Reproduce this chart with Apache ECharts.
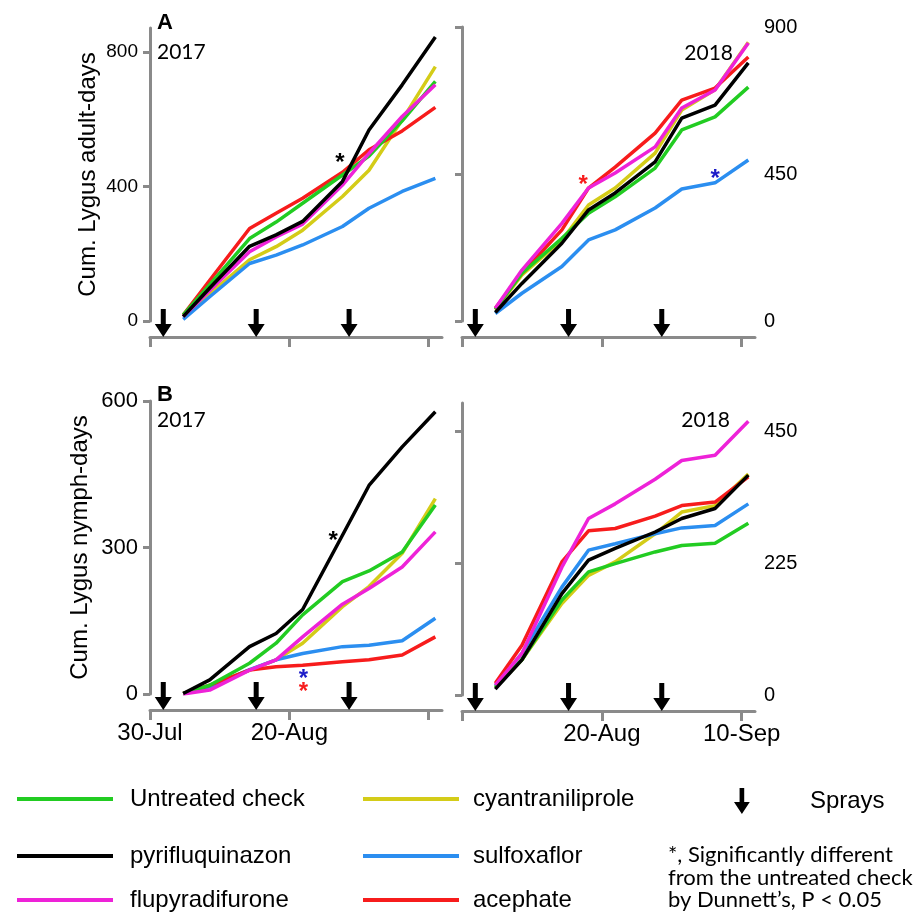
<!DOCTYPE html>
<html>
<head>
<meta charset="utf-8">
<script src="https://cdn.jsdelivr.net/npm/echarts@6/dist/echarts.min.js"></script>
<style>
  html, body { margin: 0; padding: 0; background: #fff; }
  #chart { width: 921px; height: 915px; }
</style>
</head>
<body>
<div id="chart"></div>
<script>
// sampling dates, days after 30 Jul of each year
const sampleDays = [5, 9, 15, 19, 23, 29, 33, 38, 43];
const sprayDays = [2, 16, 30];
const xTickDays = [0, 21, 42];
const xTickText2017 = ['30-Jul', '20-Aug', ''];
const xTickText2018 = ['', '20-Aug', '10-Sep'];

const treatments = ['Untreated check', 'pyrifluquinazon', 'flupyradifurone',
  'cyantraniliprole', 'sulfoxaflor', 'acephate'];

// rows follow the treatments order
const adults2017 = [
  [18, 108, 245, 294, 350, 434, 490, 595, 712],
  [13, 98, 222, 256, 296, 415, 568, 702, 844],
  [13, 91, 206, 250, 288, 404, 498, 608, 702],
  [13, 81, 182, 221, 270, 370, 448, 598, 756],
  [5, 72, 171, 196, 226, 281, 335, 385, 424],
  [18, 121, 275, 320, 365, 442, 509, 565, 635]
];
const adults2018 = [
  [36, 146, 253, 330, 380, 468, 585, 625, 716],
  [26, 115, 238, 340, 392, 487, 621, 661, 790],
  [39, 156, 299, 407, 453, 533, 652, 707, 851],
  [34, 141, 248, 355, 407, 514, 646, 708, 853],
  [23, 85, 167, 248, 279, 346, 404, 423, 493],
  [39, 146, 279, 407, 471, 575, 676, 713, 808]
];
const nymphs2017 = [
  [1, 18, 63, 104, 162, 230, 252, 291, 387],
  [1, 29, 97, 124, 173, 325, 427, 506, 578],
  [0, 8, 49, 70, 117, 184, 216, 260, 332],
  [1, 15, 49, 70, 104, 179, 220, 288, 400],
  [1, 15, 50, 70, 83, 97, 100, 109, 155],
  [1, 18, 49, 56, 59, 66, 70, 80, 117]
];
const nymphs2018 = [
  [13, 60, 162, 210, 224, 244, 255, 259, 293],
  [10, 60, 173, 230, 250, 278, 301, 318, 375],
  [17, 71, 218, 301, 326, 368, 400, 409, 467],
  [13, 60, 156, 204, 227, 275, 312, 323, 377],
  [15, 71, 184, 247, 258, 275, 285, 289, 326],
  [20, 85, 227, 280, 284, 305, 323, 329, 372]
];

// significance marks: [day, value, treatment index]
const starsAdults2017 = [[28.6, 488, 1]];
const starsAdults2018 = [[18.2, 438, 5], [38.0, 456, 4]];
const starsNymphs2017 = [[27.6, 326, 1], [23.1, 45, 4], [23.1, 18, 5]];
const starsNymphs2018 = [];

const lineColors = ['#22cc22', '#000000', '#ee22d8', '#d4cc18', '#2b8ef0', '#f71c1c'];
const starColors = ['#22cc22', '#000000', '#ee22d8', '#d4cc18', '#1c1cc8', '#f71c1c'];
const drawOrder = [3, 4, 5, 0, 2, 1];
const axisGray = '#8a8a8a';
const arial = 'Liberation Sans';
const humanist = 'Lato';
const arrowPath = 'path://M6,0 L11,0 L11,15 L17,15 L8.5,28 L0,15 L6,15 Z';

const panels = [
  { rows: adults2017, stars: starsAdults2017, grid: { left: 150, top: 28, width: 292, height: 293 },
    yMax: 871, yTicks: [0, 400, 800], side: 'left', yFont: 19, xText: null,
    yName: 'Cum. Lygus adult-days', nameGap: 50 },
  { rows: adults2018, stars: starsAdults2018, grid: { left: 462, top: 27, width: 293, height: 294 },
    yMax: 900, yTicks: [0, 450, 900], side: 'right', yFont: 20, xText: null },
  { rows: nymphs2017, stars: starsNymphs2017, grid: { left: 150, top: 401, width: 292, height: 293 },
    yMax: 600, yTicks: [0, 300, 600], side: 'left', yFont: 22, xText: xTickText2017,
    yName: 'Cum. Lygus nymph-days', nameGap: 58 },
  { rows: nymphs2018, stars: starsNymphs2018, grid: { left: 462, top: 403, width: 293, height: 292 },
    yMax: 498, yTicks: [0, 225, 450], side: 'right', yFont: 20, xText: xTickText2018 }
];

const chart = echarts.init(document.getElementById('chart'), null, { renderer: 'canvas' });

const grids = [], xAxes = [], yAxes = [], series = [];

panels.forEach((p, i) => {
  grids.push(Object.assign({ containLabel: false }, p.grid));

  const labelDays = p.xText ? xTickDays.filter((d, k) => p.xText[k]) : [];
  xAxes.push({
    type: 'value', gridIndex: i, min: 0, max: 44, offset: 16,
    axisLine: { show: true, onZero: false, lineStyle: { color: axisGray, width: 3 } },
    axisTick: { show: true, customValues: xTickDays, length: 10, lineStyle: { color: axisGray, width: 3 } },
    axisLabel: {
      show: !!p.xText, customValues: labelDays, margin: 11,
      color: '#000', fontSize: 24, fontFamily: arial,
      formatter: v => p.xText ? p.xText[xTickDays.indexOf(v)] : ''
    },
    splitLine: { show: false }
  });

  yAxes.push({
    type: 'value', gridIndex: i, min: 0, max: p.yMax, position: p.side,
    name: p.yName || '', nameLocation: 'middle', nameGap: p.nameGap || 0, nameRotate: 90,
    nameTextStyle: { color: '#000', fontSize: 24, fontFamily: arial },
    axisLine: { show: true, lineStyle: { color: axisGray, width: 3 } },
    axisTick: { show: true, inside: p.side === 'right', customValues: p.yTicks, length: 7,
      lineStyle: { color: axisGray, width: 3 } },
    axisLabel: { customValues: p.yTicks, color: '#000', fontSize: p.yFont, fontFamily: arial,
      margin: p.side === 'right' ? 9 : 12 },
    splitLine: { show: false }
  });

  drawOrder.forEach(k => {
    series.push({
      type: 'line', name: treatments[k], xAxisIndex: i, yAxisIndex: i,
      data: sampleDays.map((d, j) => [d, p.rows[k][j]]),
      symbol: 'none', showSymbol: false, color: lineColors[k],
      lineStyle: { width: 3.5, color: lineColors[k] },
      silent: true, animation: false
    });
  });

  series.push({
    type: 'scatter', name: 'Sprays', xAxisIndex: i, yAxisIndex: i,
    data: sprayDays.map(d => [d, 0]),
    symbol: arrowPath, symbolSize: [17, 28], symbolOffset: [0, 2],
    itemStyle: { color: '#000', opacity: 1 }, clip: false, silent: true, z: 5, animation: false
  });

  if (p.stars.length) {
    series.push({
      type: 'scatter', name: 'sig' + i, xAxisIndex: i, yAxisIndex: i,
      data: p.stars.map(s => ({
        value: [s[0], s[1]],
        label: { color: starColors[s[2]] }
      })),
      symbolSize: 0.1, itemStyle: { color: 'rgba(0,0,0,0)', opacity: 1 },
      label: { show: true, position: 'inside', formatter: '*', fontSize: 24, fontWeight: 'bold',
        fontFamily: arial, offset: [0, 7] },
      clip: false, silent: true, z: 6, animation: false
    });
  }
});

// one legend block per entry, two columns
const legendSlots = [
  [0, 12, 796], [3, 358, 796],
  [1, 12, 853], [4, 358, 853],
  [2, 12, 897], [5, 358, 897]
];
const legends = legendSlots.map(([k, x, y]) => ({
  left: x, top: y - 14, orient: 'horizontal', selectedMode: false,
  data: [{ name: treatments[k], icon: 'rect' }], itemWidth: 96, itemHeight: 4,
  textStyle: { fontSize: 24, color: '#000', fontFamily: arial, padding: [0, 0, 0, x < 100 ? 12 : 9] }
}));
legends.push({
  left: 729, top: 783, selectedMode: false,
  data: [{ name: 'Sprays', icon: arrowPath }], itemWidth: 16, itemHeight: 26,
  itemStyle: { color: '#000', opacity: 1 },
  textStyle: { fontSize: 24, color: '#000', fontFamily: arial, padding: [0, 0, 0, 55] }
});

const txt = (x, y, text, extra) => ({
  type: 'text', x: x, y: y, silent: true,
  style: Object.assign({ text: text, fill: '#000', font: '21px ' + humanist,
    textVerticalAlign: 'middle', verticalAlign: 'middle' }, extra || {})
});

chart.setOption({
  animation: false,
  backgroundColor: '#fff',
  textStyle: { fontFamily: arial },
  grid: grids,
  xAxis: xAxes,
  yAxis: yAxes,
  legend: legends,
  series: series,
  graphic: [
    txt(157, 23, 'A', { font: 'bold 22px ' + arial }),
    txt(157, 395, 'B', { font: 'bold 22px ' + arial }),
    txt(157, 52, '2017'),
    txt(157, 420, '2017'),
    txt(733, 53, '2018', { textAlign: 'right', align: 'right' }),
    txt(730, 420, '2018', { textAlign: 'right', align: 'right' }),
    txt(668, 855, '*, Significantly different', { font: '22px ' + humanist }),
    txt(668, 878, 'from the untreated check', { font: '22px ' + humanist }),
    txt(668, 900, 'by Dunnett\u2019s, P < 0.05', { font: '22px ' + humanist })
  ]
});
</script>
</body>
</html>
